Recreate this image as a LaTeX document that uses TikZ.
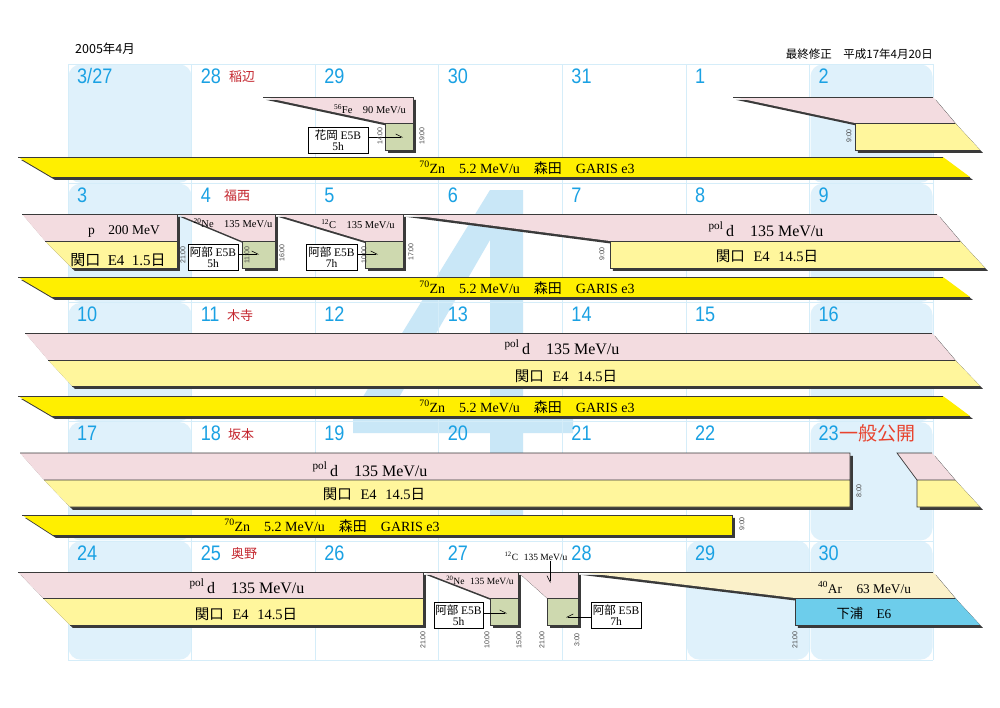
\documentclass[tikz,border=0pt]{standalone}
\usepackage{fontspec}
\setmainfont{Liberation Serif}
\newfontfamily\jp{Noto Sans CJK JP}
\newfontfamily\datefont[FakeStretch=0.86]{Liberation Sans}
\newfontfamily\timefont{Liberation Sans}
\usetikzlibrary{arrows.meta,shadows,positioning}

\definecolor{beampink}{HTML}{F3DCE0}
\definecolor{exptyellow}{HTML}{FFF69C}
\definecolor{znyellow}{HTML}{FFEF00}
\definecolor{boxgreen}{HTML}{CED9AF}
\definecolor{arcream}{HTML}{FBF1CA}
\definecolor{eblue}{HTML}{6DCDEB}
\definecolor{shadowgray}{HTML}{3A3A3A}
\definecolor{rimgray}{HTML}{3A3A3A}
\definecolor{gridblue}{HTML}{D5EDF9}
\definecolor{holiday}{HTML}{DFF1FB}
\definecolor{markfour}{HTML}{C9E7F7}
\definecolor{datecyan}{HTML}{1AA1E3}
\definecolor{namered}{HTML}{C4262E}
\definecolor{openred}{HTML}{E8432E}
\definecolor{timegray}{HTML}{444444}

\newcommand{\garisline}{\textsuperscript{70}Zn\quad 5.2 MeV/u\quad{\jp 森田}\quad GARIS e3}
\newcommand{\sekiguchi}[1]{{\jp 関口}\hspace{0.6em}E4\hspace{0.6em}#1{\jp 日}}
\newcommand{\pold}{\textsuperscript{pol}\,d\quad 135 MeV/u}

\begin{document}
\begin{tikzpicture}[x=1pt,y=-1pt,
  band/.style={drop shadow={shadow xshift=2.8pt,shadow yshift=-2.8pt,fill=shadowgray,opacity=1}},
  beam/.style={band,fill=beampink},
  expt/.style={band,fill=exptyellow},
  online/.style={band,fill=boxgreen},
  garis/.style={band,fill=znyellow},
  rim/.style={draw=rimgray,line width=0.7pt},
  gridline/.style={draw=gridblue,line width=0.6pt},
  holiday cell/.style={fill=holiday,rounded corners=12pt},
  header/.style={inner sep=0,font=\jp\fontsize{12.5}{12.5}\selectfont},
  datenum/.style={anchor=west,inner sep=0,text=datecyan,font=\datefont\fontsize{21}{21}\selectfont},
  duty/.style={anchor=west,inner sep=0,text=namered,font=\jp\fontsize{13}{13}\selectfont},
  beamtext/.style={anchor=base,inner sep=0,font=\fontsize{16}{16}\selectfont},
  small beamtext/.style={anchor=base,inner sep=0,font=\fontsize{10.5}{10.5}\selectfont},
  expttext/.style={anchor=base,inner sep=0,font=\fontsize{14.5}{14.5}\selectfont},
  infobox/.style={draw,fill=white,line width=0.7pt,inner sep=0,minimum width=50pt,minimum height=26pt,align=center,font=\fontsize{11.5}{11.5}\selectfont},
  timemark/.style={rotate=90,inner sep=0,text=timegray,font=\timefont\fontsize{7}{7}\selectfont},
  pointer/.style={-{Straight Barb[harpoon,length=6pt,width=6pt]},line width=0.6pt},
  back pointer/.style={-{Straight Barb[harpoon,swap,length=6pt,width=6pt]},line width=0.6pt}
]
\useasboundingbox (0,0) rectangle (1000,707);
\fill[white] (0,0) rectangle (1000,707);

% weekends and holiday
\foreach \r in {0,...,4}{
  \fill[holiday cell] (68.5,64.5+119.2*\r) rectangle (191.5,182.8+119.2*\r);
  \fill[holiday cell] (810.5,64.5+119.2*\r) rectangle (932.5,182.8+119.2*\r);
}
\fill[holiday cell] (687,540.9) rectangle (809.5,659.5);

% month mark
\fill[markfour,even odd rule] (490,190) -- (523,190) -- (523,413) -- (573,413) -- (573,433) -- (523,433)
  -- (523,535) -- (490,535) -- (490,433) -- (353,433) -- (353,413) -- cycle
  (490,240) -- (490,413) -- (390,413) -- cycle;

% grid
\foreach \c in {0,...,7}
  \draw[gridline] (68+123.57*\c,64) -- (68+123.57*\c,660);
\foreach \r in {0,...,5}
  \draw[gridline] (68,64+119.2*\r) -- (933,64+119.2*\r);

\node[header,anchor=west] (month) at (75,49) {2005年4月};
\node[header,anchor=east,font=\jp\fontsize{11.5}{11.5}\selectfont] (revised) at (933,54) {最終修正　平成17年4月20日};

% dates
\foreach \d [count=\i from 0] in {{3/27},28,29,30,31,1,2}
  \node[datenum] (date-0-\i) at (77+123.57*\i,76) {\d};
\foreach \r in {1,...,4}
  \foreach \i in {0,...,6}{
    \pgfmathtruncatemacro\dn{7*\r+\i-4}
    \node[datenum] (date-\r-\i) at (77+123.57*\i,76+119.2*\r) {\dn};
  }
\node[duty] (duty-0) at (229,77) {稲辺};
\node[duty] (duty-1) at (224,196) {福西};
\node[duty] (duty-2) at (227,316) {木寺};
\node[duty] (duty-3) at (228,435) {坂本};
\node[duty] (duty-4) at (231,554) {奥野};
\node[duty,text=openred,font=\jp\fontsize{19}{19}\selectfont,right=0pt of date-3-6] (open) {一般公開};

% week 1
\fill[beam] (263,97) -- (413,97) -- (413,123) -- (385,123) -- cycle;
\fill[online] (385,123) rectangle (413,150);
\draw[rim] (263,97) -- (413,97) -- (413,150) -- (385,150) -- (385,123) -- (413,123);
\fill[beam] (733,97) -- (933,97) -- (955,123) -- (855,123) -- cycle;
\fill[expt] (855,123) -- (955,123) -- (980,150) -- (855,150) -- cycle;
\draw[rim] (733,97) -- (933,97) (980,150) -- (855,150) -- (855,123) -- (955,123);
\node[small beamtext] (fe) at (370,113) {\textsuperscript{56}Fe\quad 90 MeV/u};
\node[infobox,minimum width=60pt] (box-fe) at (338,140) {{\jp 花岡} E5B\\5h};
\coordinate (tip-fe) at (403,137);
\draw[pointer] (tip-fe -| box-fe.east) -- (tip-fe);
\node[timemark] (time-1a) at (380,136) {14:00};
\node[timemark] (time-1b) at (422,136) {19:00};
\node[timemark] (time-1c) at (849,136) {9:00};

% GARIS, weeks 1-3
\foreach \y [count=\k] in {157,277,396}{
  \fill[garis] (18,\y) -- (943,\y) -- (970,\y+20) -- (52,\y+20) -- cycle;
  \draw[rim] (18,\y) -- (943,\y) (52,\y+20) -- (970,\y+20);
  \node[expttext,font=\fontsize{14}{14}\selectfont] (zn-\k) at (527,\y+16) {\garisline};
}

% week 2
\fill[beam] (22,214) -- (177,214) -- (177,241) -- (45,241) -- cycle;
\fill[expt] (45,241) -- (177,241) -- (177,268) -- (72,268) -- cycle;
\fill[beam] (177,214) -- (275,214) -- (275,241) -- (242,241) -- cycle;
\fill[online] (242,241) rectangle (275,268);
\fill[beam] (275,214) -- (403,214) -- (403,241) -- (365,241) -- cycle;
\fill[online] (365,241) rectangle (403,268);
\fill[beam] (403,214) -- (937,214) -- (960,241) -- (610,241) -- cycle;
\fill[expt] (610,241) -- (960,241) -- (985,268) -- (610,268) -- cycle;
\draw[rim] (22,214) -- (937,214) (45,241) -- (177,241) (177,214) -- (177,268) -- (72,268)
  (242,241) rectangle (275,268) (275,214) -- (275,241)
  (365,241) rectangle (403,268) (403,214) -- (403,241)
  (985,268) -- (610,268) -- (610,241) -- (960,241);
\node[expttext,font=\fontsize{13.5}{13.5}\selectfont] (p-2) at (124,234.5) {p\quad 200 MeV};
\node[expttext,font=\fontsize{15}{15}\selectfont] (sekiguchi-2a) at (118,265) {{\jp 関口}\hspace{0.5em}E4\hspace{0.5em}1.5{\jp 日}};
\node[small beamtext] (ne-2) at (233,227) {\textsuperscript{20}Ne\quad 135 MeV/u};
\node[small beamtext] (c-2) at (358,228) {\textsuperscript{12}C\quad 135 MeV/u};
\node[infobox] (box-ne2) at (213,257) {{\jp 阿部} E5B\\5h};
\node[infobox,minimum width=51pt] (box-c2) at (331.5,257) {{\jp 阿部} E5B\\7h};
\coordinate (tip-ne2) at (259,254);
\coordinate (tip-c2) at (378,254);
\draw[pointer] (tip-ne2 -| box-ne2.east) -- (tip-ne2);
\draw[pointer] (tip-c2 -| box-c2.east) -- (tip-c2);
\node[beamtext] (d-2) at (766,236) {\pold};
\node[expttext] (sekiguchi-2b) at (767,261) {\sekiguchi{14.5}};
\node[timemark] (time-2a) at (183,255) {21:00};
\node[timemark] (time-2b) at (247,255) {11:00};
\node[timemark] (time-2c) at (282,253) {16:00};
\node[timemark] (time-2d) at (364,255) {10:00};
\node[timemark] (time-2e) at (411,252) {17:00};
\node[timemark] (time-2f) at (602,254) {9:00};

% week 3
\fill[beam] (25,333) -- (932,333) -- (955,360) -- (48,360) -- cycle;
\fill[expt] (48,360) -- (955,360) -- (980,386) -- (72,386) -- cycle;
\draw[rim] (25,333) -- (932,333) (48,360) -- (955,360) (72,386) -- (980,386);
\node[beamtext] (d-3) at (562,354) {\pold};
\node[expttext] (sekiguchi-3) at (566,381) {\sekiguchi{14.5}};

% week 4
\fill[beam] (20,453) -- (850,453) -- (850,480) -- (44,480) -- cycle;
\fill[expt] (44,480) -- (850,480) -- (850,507) -- (70,507) -- cycle;
\fill[beam] (897,453) -- (932,453) -- (955,480) -- (917,480) -- cycle;
\fill[expt] (917,480) -- (955,480) -- (980,507) -- (917,507) -- cycle;
\draw[rim] (20,453) -- (850,453) -- (850,507) -- (70,507) (44,480) -- (850,480)
  (932,453) -- (897,453) -- (917,480) -- (955,480) (917,480) -- (917,507) -- (980,507);
\fill[garis] (22,515) -- (732,515) -- (732,535) -- (53,535) -- cycle;
\draw[rim] (22,515) -- (732,515) -- (732,535) -- (53,535);
\node[beamtext] (d-4) at (370,476) {\pold};
\node[expttext] (sekiguchi-4) at (374,499) {\sekiguchi{14.5}};
\node[expttext,font=\fontsize{14}{14}\selectfont] (zn-4) at (332,531) {\garisline};
\node[timemark] (time-4a) at (859,491) {8:00};
\node[timemark] (time-4b) at (742,524) {9:00};

% week 5
\fill[beam] (18,572) -- (423,572) -- (423,598) -- (43,598) -- cycle;
\fill[expt] (43,598) -- (423,598) -- (423,625) -- (70,625) -- cycle;
\fill[beam] (423,572) -- (518,572) -- (518,598) -- (490,598) -- cycle;
\fill[online] (490,598) rectangle (518,625);
\fill[beam] (518,572) -- (578,572) -- (578,598) -- (547,598) -- cycle;
\fill[online] (547,598) rectangle (578,625);
\fill[band,fill=arcream] (578,572) -- (933,572) -- (955,598) -- (795,598) -- cycle;
\fill[band,fill=eblue] (795,598) -- (955,598) -- (980,625) -- (795,625) -- cycle;
\draw[rim] (18,572) -- (933,572) (43,598) -- (423,598) (423,572) -- (423,625) -- (70,625)
  (490,598) rectangle (518,625) (518,572) -- (518,598)
  (547,598) rectangle (578,625) (578,572) -- (578,598)
  (980,625) -- (795,625) -- (795,598) -- (955,598);
\node[beamtext] (d-5) at (247,593) {\pold};
\node[expttext] (sekiguchi-5) at (246,619) {\sekiguchi{14.5}};
\node[small beamtext,font=\fontsize{9.5}{9.5}\selectfont] (ne-5) at (480,584) {\textsuperscript{20}Ne\hspace{0.6em}135 MeV/u};
\node[small beamtext,font=\fontsize{9.5}{9.5}\selectfont] (c-5) at (536,560) {\textsuperscript{12}C\hspace{0.6em}135 MeV/u};
\node[infobox,minimum width=49pt] (box-ne5) at (458.5,615) {{\jp 阿部} E5B\\5h};
\node[infobox] (box-c5) at (616,615) {{\jp 阿部} E5B\\7h};
\coordinate (tip-ne5) at (507,613);
\coordinate (tip-c5) at (566,617);
\coordinate (tip-c5text) at (550,583);
\draw[pointer] (tip-ne5 -| box-ne5.east) -- (tip-ne5);
\draw[back pointer] (tip-c5 -| box-c5.west) -- (tip-c5);
\draw[back pointer] ([yshift=-1pt]c-5.south -| tip-c5text) -- (tip-c5text);
\node[expttext,font=\fontsize{13.3}{13.3}\selectfont] (ar-5) at (864.5,593) {\textsuperscript{40}Ar\hspace{1.1em}63 MeV/u};
\node[expttext,font=\fontsize{13.3}{13.3}\selectfont] (shimoura-5) at (864,618) {{\jp 下浦}\quad E6};
\node[timemark] (time-5a) at (423,640) {21:00};
\node[timemark] (time-5b) at (487,640) {10:00};
\node[timemark] (time-5c) at (519,640) {15:00};
\node[timemark] (time-5d) at (542,640) {21:00};
\node[timemark] (time-5e) at (577,640) {3:00};
\node[timemark] (time-5f) at (795,640) {21:00};
\end{tikzpicture}
\end{document}
